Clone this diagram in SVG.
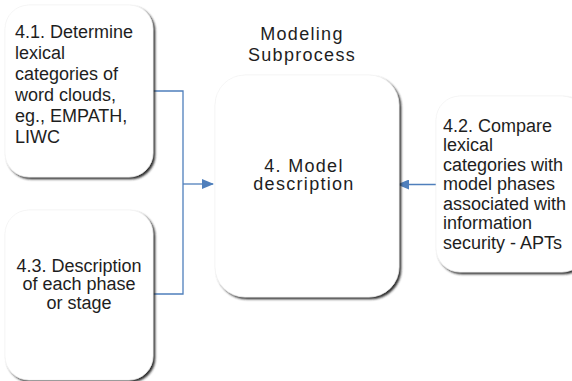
<svg xmlns="http://www.w3.org/2000/svg" width="572" height="381" viewBox="0 0 572 381">
  <style>
    .box { fill: #ffffff; stroke: #f0f0f0; stroke-width: 0.6; filter: url(#shadow); }
    .txt { font-family: "Liberation Sans", Arial, sans-serif; font-size: 18px; fill: #1e1e1e; }
    .spaced { letter-spacing: 1.3px; }
    .wire { fill: none; stroke: #4f7fbc; stroke-width: 1.3; }
  </style>
  <defs>
    <filter id="shadow" x="-10%" y="-10%" width="125%" height="125%">
      <feDropShadow dx="2" dy="2" stdDeviation="1.1" flood-color="#222222" flood-opacity="0.95"/>
    </filter>
    <marker id="arrow" viewBox="0 0 12 10" refX="11" refY="5" markerWidth="12" markerHeight="10" markerUnits="userSpaceOnUse" orient="auto">
      <path d="M0,0 L12,5 L0,10 Z" fill="#4f7fbc"/>
    </marker>
  </defs>

  <rect width="572" height="381" fill="#ffffff"/>

  <!-- Title -->
  <g id="title">
    <text class="txt spaced" x="302" y="39.5" text-anchor="middle">Modeling</text>
    <text class="txt spaced" x="302" y="61" text-anchor="middle">Subprocess</text>
  </g>

  <!-- Connectors -->
  <g id="connectors">
    <polyline class="wire" points="153,91 183,91 183,294 153,294"/>
    <line class="wire" x1="183" y1="184" x2="213" y2="184" marker-end="url(#arrow)"/>
    <line class="wire" x1="436" y1="184.5" x2="398" y2="184.5" marker-end="url(#arrow)"/>
  </g>

  <!-- 4.1 -->
  <g id="node-4-1">
    <rect class="box" x="5" y="5" width="148" height="172" rx="24"/>
    <text class="txt" x="15" y="38">4.1.<tspan dx="5">Determine</tspan></text>
    <text class="txt" x="15" y="59">lexical</text>
    <text class="txt" x="15" y="80">categories of</text>
    <text class="txt" x="15" y="101">word clouds,</text>
    <text class="txt" x="15" y="122">eg., EMPATH,</text>
    <text class="txt" x="15" y="143">LIWC</text>
  </g>

  <!-- 4.3 -->
  <g id="node-4-3">
    <rect class="box" x="5" y="210" width="148" height="170" rx="24"/>
    <text class="txt" x="79" y="271.5" text-anchor="middle">4.3. Description</text>
    <text class="txt" x="79" y="290" text-anchor="middle">of each phase</text>
    <text class="txt" x="79" y="308.5" text-anchor="middle">or stage</text>
  </g>

  <!-- 4 -->
  <g id="node-4">
    <rect class="box" x="215" y="75" width="184" height="222" rx="30"/>
    <text class="txt spaced" x="304" y="171.5" text-anchor="middle">4. Model</text>
    <text class="txt spaced" x="304" y="190" text-anchor="middle">description</text>
  </g>

  <!-- 4.2 -->
  <g id="node-4-2">
    <rect class="box" x="436" y="96" width="150" height="176" rx="24"/>
    <text class="txt" x="443" y="131.5">4.2. Compare</text>
    <text class="txt" x="443" y="151">lexical</text>
    <text class="txt" x="443" y="170.5">categories with</text>
    <text class="txt" x="443" y="190">model phases</text>
    <text class="txt" x="443" y="209.5">associated with</text>
    <text class="txt" x="443" y="229">information</text>
    <text class="txt" x="443" y="248.5">security - APTs</text>
  </g>
</svg>
